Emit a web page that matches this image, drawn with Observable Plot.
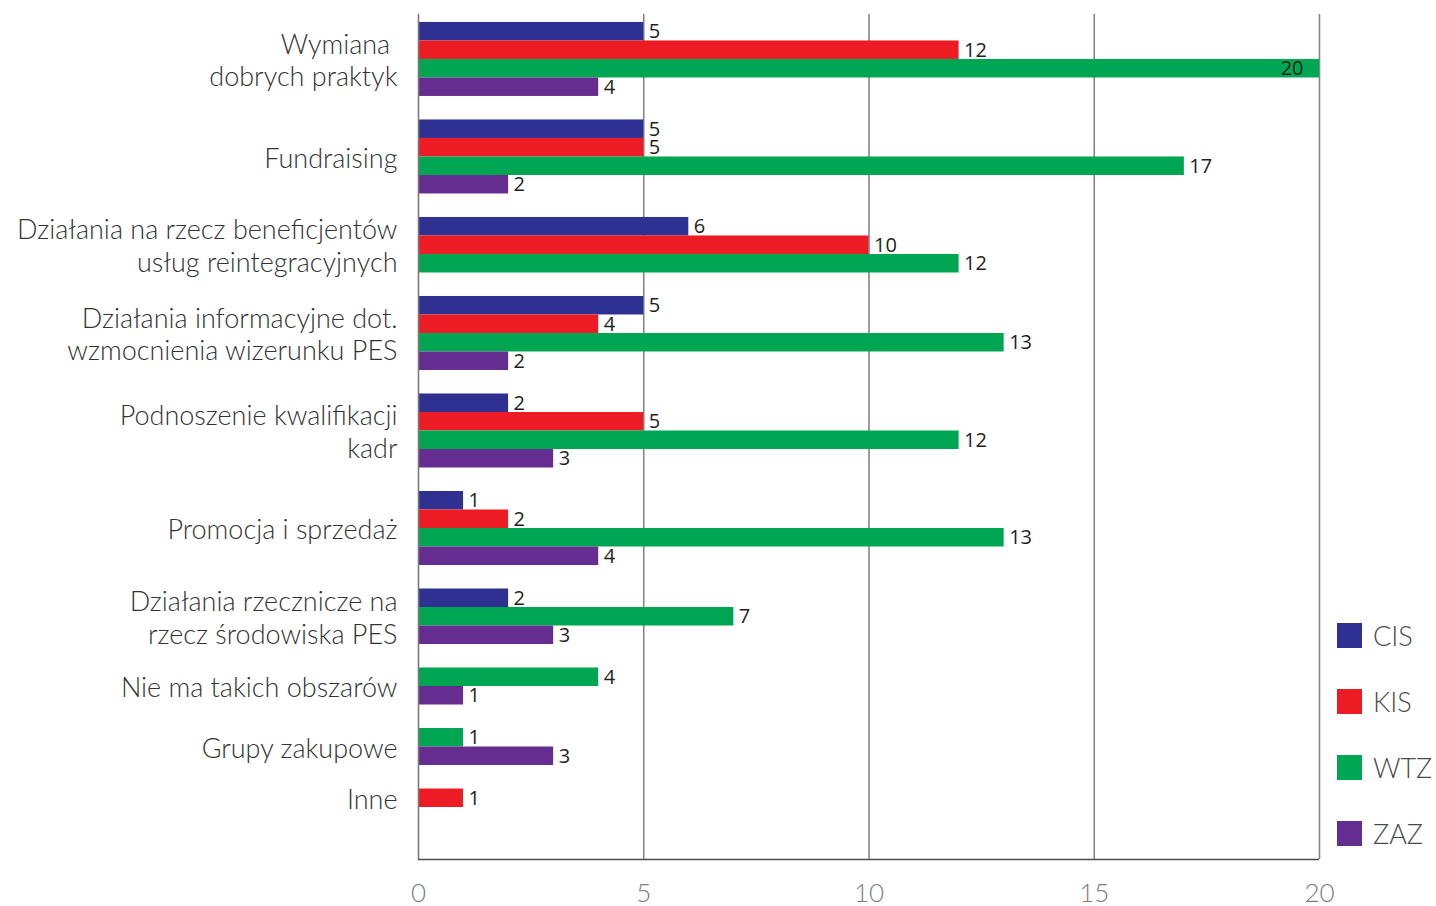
<!DOCTYPE html>
<html>
<head>
<meta charset="utf-8">
<script src="https://cdn.jsdelivr.net/npm/d3@7"></script>
<script src="https://cdn.jsdelivr.net/npm/@observablehq/plot@0.6"></script>
<style>
  html, body { margin: 0; padding: 0; background: #ffffff; }
  #chart { position: relative; width: 1436px; height: 906px; }
  #chart svg { display: block; }
  #legend { position: absolute; left: 1337px; top: 623px; font-family: Lato, "Open Sans", sans-serif; font-weight: 300; }
  #legend .item { display: flex; align-items: center; height: 25px; margin-bottom: 41px; }
  #legend .sw { width: 25px; height: 25px; margin-right: 11px; }
  #legend .lab { font-size: 27px; color: #4a4a4a; line-height: 25px; }
</style>
</head>
<body>
<div id="chart"></div>
<script>
// ---- data ----
const categories = [
  "Wymiana \ndobrych praktyk",
  "Fundraising",
  "Działania na rzecz beneficjentów\nusług reintegracyjnych",
  "Działania informacyjne dot.\nwzmocnienia wizerunku PES",
  "Podnoszenie kwalifikacji\nkadr",
  "Promocja i sprzedaż",
  "Działania rzecznicze na\nrzecz środowiska PES",
  "Nie ma takich obszarów",
  "Grupy zakupowe",
  "Inne"
];
const series = ["CIS", "KIS", "WTZ", "ZAZ"];
const colors = ["#2e3192", "#ed1c24", "#00a651", "#662d91"];
const cis = [5, 5, 6, 5, 2, 1, 2, 0, 0, 0];
const kis = [12, 5, 10, 4, 5, 2, 0, 0, 0, 1];
const wtz = [20, 17, 12, 13, 12, 13, 7, 4, 1, 0];
const zaz = [4, 2, 0, 2, 3, 4, 3, 1, 3, 0];
const xTicks = [0, 5, 10, 15, 20];

// ---- layout in bar-slot units (bars with zero are omitted, remaining bars packed) ----
const seriesValues = [cis, kis, wtz, zaz];
const GAP = 1.27;
let pos = 0;
const bars = [];
const catLabels = [];
categories.forEach((c, i) => {
  const start = pos;
  series.forEach((s, j) => {
    const v = seriesValues[j][i];
    if (v > 0) {
      bars.push({category: c, series: s, value: v, y1: pos, y2: pos + 1});
      pos += 1;
    }
  });
  catLabels.push({category: c, y: (start + pos) / 2});
  pos += GAP;
});
const yTop = -0.43;
const yBottom = 45.24;
const xMax = d3.max(xTicks);

const chart = Plot.plot({
  width: 1436,
  height: 906,
  marginLeft: 418,
  marginRight: 117,
  marginTop: 14,
  marginBottom: 47,
  style: {background: "#ffffff", overflow: "visible"},
  x: {domain: [0, xMax], axis: null, label: null},
  y: {domain: [yTop, yBottom], reverse: true, axis: null},
  color: {domain: series, range: colors},
  marks: [
    Plot.ruleX(xTicks.filter(d => d > 0), {stroke: "#858585", strokeWidth: 1.6}),
    Plot.rect(bars, {x1: 0, x2: "value", y1: "y1", y2: "y2", fill: "series"}),
    Plot.ruleX([0], {stroke: "#7a7a7a", strokeWidth: 1.6}),
    Plot.ruleY([yBottom], {stroke: "#4d4d4d", strokeWidth: 1.6}),
    Plot.text(bars.filter(d => d.value < xMax), {
      x: "value", y: d => (d.y1 + d.y2) / 2, text: d => String(d.value),
      textAnchor: "start", dx: 5, fontSize: 20, fill: "#231f20",
      fontFamily: "'Open Sans', sans-serif"
    }),
    Plot.text(bars.filter(d => d.value >= xMax), {
      x: "value", y: d => (d.y1 + d.y2) / 2, text: d => String(d.value),
      textAnchor: "end", dx: -16, fontSize: 20, fill: "#231f20",
      fontFamily: "'Open Sans', sans-serif"
    }),
    Plot.text(catLabels, {
      x: 0, y: "y", text: "category", textAnchor: "end", dx: -21,
      fontSize: 27, lineHeight: 1.22, fill: "#333333",
      fontFamily: "Lato, 'Open Sans', sans-serif", fontWeight: 300
    }),
    Plot.axisX(xTicks, {
      anchor: "bottom", tickSize: 0, tickPadding: 24, fontSize: 26, label: null,
      fill: "#7d7d7d", fontFamily: "Lato, 'Open Sans', sans-serif", fontWeight: 300
    })
  ]
});
chart.querySelectorAll("text").forEach(t => t.setAttribute("xml:space", "preserve"));
document.getElementById("chart").appendChild(chart);

// legend
const legend = d3.select("#chart").append("div").attr("id", "legend");
const items = legend.selectAll("div.item").data(series).join("div").attr("class", "item");
items.append("div").attr("class", "sw").style("background", (d, i) => colors[i]);
items.append("div").attr("class", "lab").text(d => d);
</script>
</body>
</html>
